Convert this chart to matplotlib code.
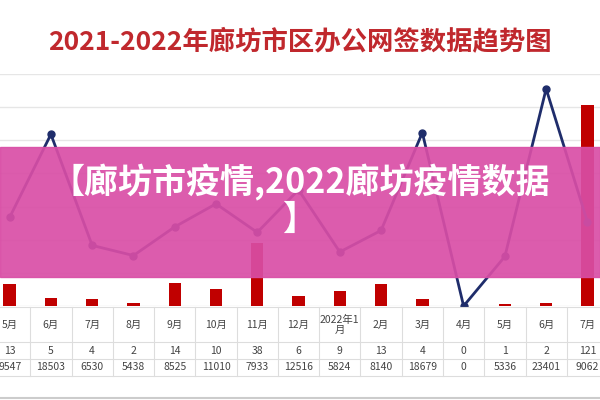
import matplotlib
matplotlib.use("Agg")
import matplotlib.pyplot as plt
from matplotlib.patches import Rectangle
from matplotlib.lines import Line2D

plt.rcParams['font.family'] = ['Noto Sans CJK SC', 'DejaVu Sans']

months = ["5月","6月","7月","8月","9月","10月","11月","12月","2022年1\n月","2月","3月","4月","5月","6月","7月"]
bars = [13,5,4,2,14,10,38,6,9,13,4,0,1,2,121]
line = [9547,18503,6530,5438,8525,11010,7933,12516,5824,8140,18679,0,5336,23401,9062]

W, H = 600, 400
fig = plt.figure(figsize=(6,4), dpi=100)
x0, cw = -11, 41.27
n = len(months)
ax = fig.add_axes([x0/W, (H-306)/H, n*cw/W, 232/H])
xs = list(range(n))
ax.bar(xs, bars, width=0.3, color='#c00000', zorder=2)
ax.set_xlim(-0.5, n-0.5)
ax.set_ylim(0, 140)
ax.set_yticks(range(0,141,20))
ax.grid(axis='y', color='#e6e6e6', lw=1)
ax.set_axisbelow(True)
for s in ax.spines.values(): s.set_visible(False)
ax.tick_params(left=False, bottom=False, labelleft=False, labelbottom=False)
ax2 = ax.twinx()
ax2.plot(xs, line, color='#1f2d6b', lw=2, marker='o', ms=5, zorder=3)
ax2.set_ylim(0, 25000)
for s in ax2.spines.values(): s.set_visible(False)
ax2.tick_params(right=False, labelright=False)

def fx(p): return p/W
def fy(p): return (H-p)/H
gc = '#dddddd'
for yy in [307, 342, 359, 376]:
    fig.add_artist(Line2D([0,1],[fy(yy)]*2, color=gc, lw=0.8))
for i in range(n+1):
    xx = x0 + i*cw
    fig.add_artist(Line2D([fx(xx)]*2,[fy(307),fy(376)], color=gc, lw=0.8))
fig.add_artist(Line2D([0,1],[fy(398)]*2, color='#cccccc', lw=1.5))
for i in range(n):
    cx = fx(x0 + (i+0.5)*cw)
    fig.text(cx, fy(324.5), months[i], ha='center', va='center', fontsize=7.5, color='#444444', linespacing=1.0)
    fig.text(cx, fy(350.5), str(bars[i]), ha='center', va='center', fontsize=7.5, color='#444444')
    fig.text(cx, fy(367.5), str(line[i]), ha='center', va='center', fontsize=7.5, color='#444444')

fig.text(0.5, fy(42), "2021-2022年廊坊市区办公网签数据趋势图", ha='center', va='center',
         fontsize=19, fontweight='bold', color='#c0282d')

fig.add_artist(Rectangle((0, fy(277)), 1, 130/H, transform=fig.transFigure,
                         color='#d94ea6', alpha=0.92, zorder=10))
fig.text(0.5, fy(182), "【廊坊市疫情,2022廊坊疫情数据", ha='center', va='center',
         fontsize=24.5, fontweight='bold', color='white', zorder=11)
fig.text(0.5, fy(219), "】", ha='center', va='center',
         fontsize=24.5, fontweight='bold', color='white', zorder=11)

fig.savefig("out.png", dpi=100)
